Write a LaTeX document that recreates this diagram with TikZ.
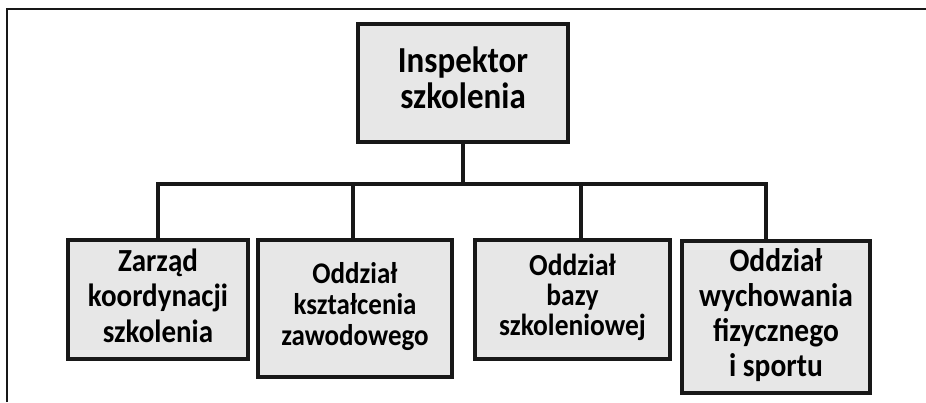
\documentclass[tikz,border=0pt]{standalone}
\usepackage{fontspec}
\setmainfont{Carlito}
\usetikzlibrary{calc}
\definecolor{boxgray}{RGB}{231,231,231}
\definecolor{inkgray}{RGB}{24,24,24}
\newcommand{\tallrows}[1]{\scalebox{1}[1.11]{\begin{tabular}{@{}c@{}}#1\end{tabular}}}

\begin{document}
\begin{tikzpicture}[x=1pt, y=-1pt,
                box/.style={draw=inkgray, line width=3.2pt, fill=boxgray, inner sep=0pt},
                link/.style={draw=inkgray, line width=3.2pt},
                frame/.style={draw=inkgray, line width=2pt}]
                \useasboundingbox (0,0) rectangle (926,402);
                \draw[frame] (7,402) -- (7,9) -- (926,9);
                \node[box, minimum width=210pt, minimum height=118pt, font={\fontsize{33}{31.5}\selectfont\bfseries}] (insp) at (463,83) {\tallrows{Inspektor\\szkolenia}};
                \node[box, minimum width=180pt, minimum height=119pt, font={\fontsize{29}{32}\selectfont\bfseries}] (zarzad) at (158,299.5) {\tallrows{Zarząd\\koordynacji\\szkolenia}};
                \node[box, minimum width=194pt, minimum height=137pt, font={\fontsize{27}{28}\selectfont\bfseries}] (ksztalc) at (355,308.5) {\tallrows{Oddział\\kształcenia\\zawodowego}};
                \node[box, minimum width=195pt, minimum height=119pt, font={\fontsize{27.5}{26}\selectfont\bfseries}] (bazy) at (572.5,299.5) {\tallrows{Oddział\\bazy\\szkoleniowej}};
                \node[box, minimum width=188pt, minimum height=152pt, font={\fontsize{29.5}{31.5}\selectfont\bfseries}] (wf) at (776,317) {\tallrows{Oddział\\wychowania\\fizycznego\\i sportu}};
                \coordinate (bar) at (463,184);
                \coordinate (d2) at ([xshift=-2pt]ksztalc.north);
                \coordinate (d3) at ([xshift=8.5pt]bazy.north);
                \coordinate (d4) at ([xshift=-10pt]wf.north);
                \draw[link] (insp.south) -- (bar);
                \draw[link] (zarzad.north) |- (d4 |- bar) -- (d4);
                \draw[link] (d2 |- bar) -- (d2);
                \draw[link] (d3 |- bar) -- (d3);
            \end{tikzpicture}
\end{document}
